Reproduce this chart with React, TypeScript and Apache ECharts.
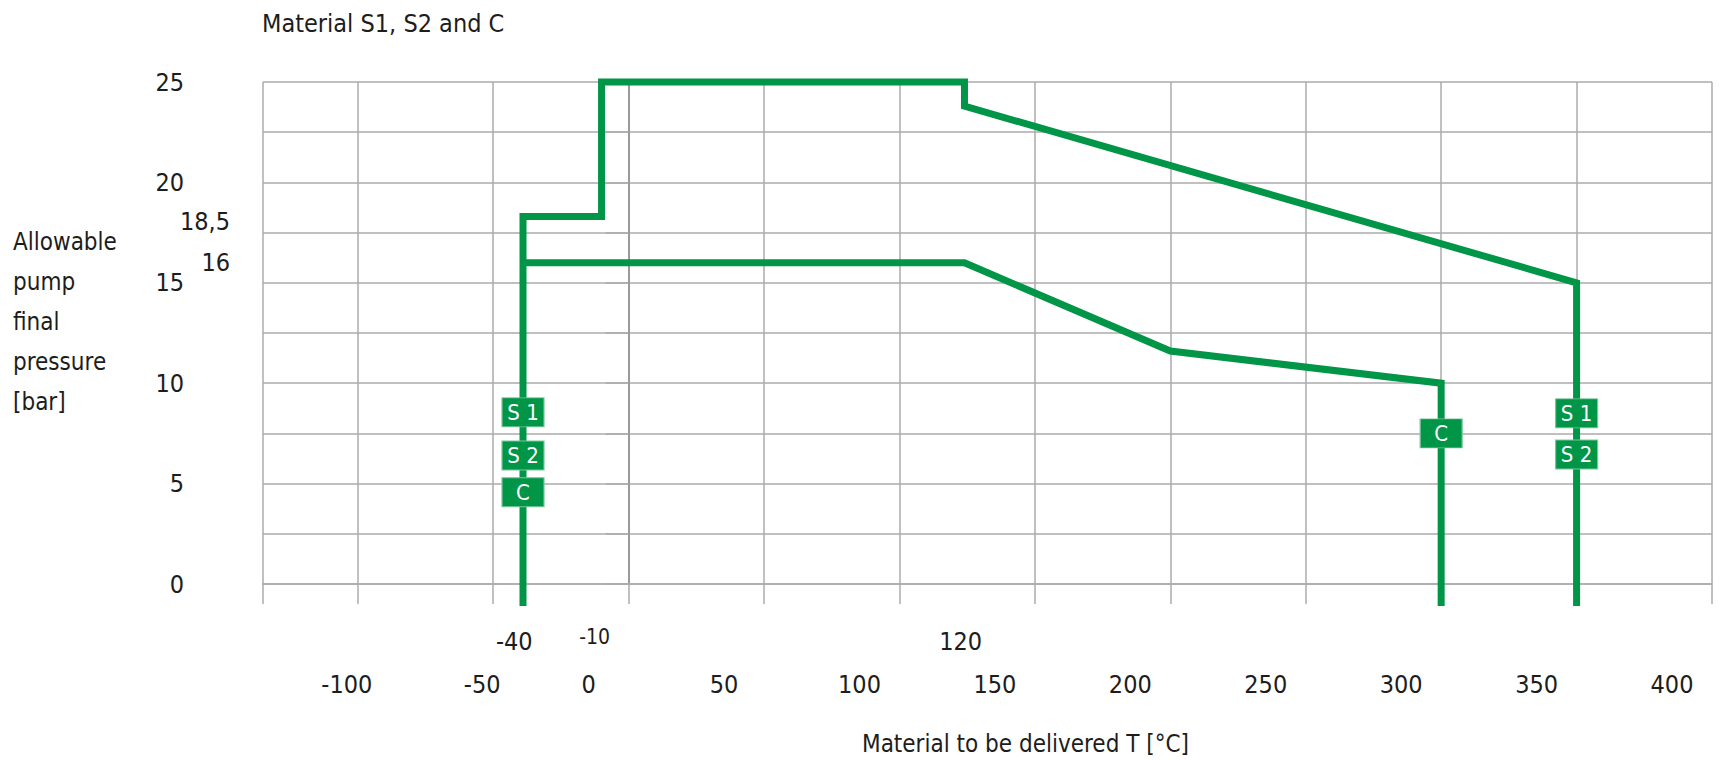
import React, { useEffect, useRef } from 'react';
import * as echarts from 'echarts';

// ---- data ----
const xTickValues = [-100, -50, 0, 50, 100, 150, 200, 250, 300, 350, 400];
const yLabelValues = [0, 5, 10, 15, 20, 25];

// outer limit curve (materials S1 and S2)
const outerX = [-39, -39, -10, -10, 124, 124, 350, 350];
const outerY = [-1.1, 18.3, 18.3, 25, 25, 23.8, 15, -1.1];

// inner limit curve (material C)
const innerX = [-39, 124, 200, 300, 300];
const innerY = [16, 16, 11.6, 10, -1.1];

// material tags on the curves
const tagText = ['S 1', 'S 2', 'C', 'C', 'S 1', 'S 2'];
const tagX = [-39, -39, -39, 300, 350, 350];
const tagY = [8.55, 6.4, 4.57, 7.5, 8.5, 6.45];

// special value annotations
const xNoteText = ['-40', '-10', '120'];
const xNoteValue = [-40, -10, 120];
const yNoteText = ['18,5', '16'];
const yNoteValue = [18.5, 16];

// ---- styles ----
const FONT = "'Liberation Sans Narrow', 'DejaVu Sans Condensed', Roboto, sans-serif";
const GREEN = '#009547';
const GRID_GRAY = '#ababab';
const AXIS_GRAY = '#9a9a9a';
const TEXT = '#1d1d1b';
const xLabelShift = [11, 11, 40, 40, 40, 40, 40, 40, 40, 40, 40];
const xNoteStyle = [
  { offset: [-6, 57], fontSize: 25 },
  { offset: [-7, 53], fontSize: 21 },
  { offset: [7, 57], fontSize: 25 },
];
const yNoteStyle = [{ offset: [0, 9] }, { offset: [0, 0] }];

const zip = (xs: number[], ys: number[]) => xs.map((x, i) => [x, ys[i]]);

const rich: Record<string, any> = {};
xTickValues.forEach((v, i) => {
  rich['r' + i] = {
    fontFamily: FONT,
    fontSize: 25,
    color: TEXT,
    padding: [0, xLabelShift[i] * 2, 0, 0],
  };
});

const option: any = {
  animation: false,
  backgroundColor: '#ffffff',
  textStyle: { fontFamily: FONT, color: TEXT },
  title: [
    {
      text: 'Material S1, S2 and C',
      left: 262,
      top: 11,
      padding: 0,
      textStyle: { fontFamily: FONT, fontSize: 25, fontWeight: 'normal', color: TEXT },
    },
    {
      text: 'Allowable\npump\nfinal\npressure\n[bar]',
      left: 13,
      top: 222,
      padding: 0,
      textStyle: { fontFamily: FONT, fontSize: 24, fontWeight: 'normal', color: TEXT, lineHeight: 40 },
    },
    {
      text: 'Material to be delivered T [°C]',
      left: 862,
      top: 732,
      padding: 0,
      textStyle: { fontFamily: FONT, fontSize: 24, fontWeight: 'normal', color: TEXT },
    },
  ],
  grid: { left: 263, right: 7, top: 82, bottom: 176, containLabel: false, outerBoundsMode: 'none' },
  xAxis: {
    type: 'value',
    min: -135,
    max: 400,
    splitNumber: 11,
    axisLine: { show: true, lineStyle: { color: GRID_GRAY, width: 1.5 } },
    axisTick: { show: true, length: 20, inside: false, lineStyle: { color: GRID_GRAY, width: 1.5 } },
    splitLine: { show: true, lineStyle: { color: GRID_GRAY, width: 1.5 } },
    axisLabel: {
      margin: 88,
      formatter: (v: number) => {
        const i = xTickValues.indexOf(v);
        return i < 0 ? '' : `{r${i}|${v}}`;
      },
      rich,
    },
  },
  yAxis: {
    type: 'value',
    min: 0,
    max: 25,
    interval: 2.5,
    axisLine: { show: true, lineStyle: { color: AXIS_GRAY, width: 2 } },
    axisTick: { show: true, length: 23, inside: false, lineStyle: { color: GRID_GRAY, width: 1.5 } },
    splitLine: { show: true, lineStyle: { color: GRID_GRAY, width: 1.5 } },
    axisLabel: {
      margin: 79,
      fontFamily: FONT,
      fontSize: 25,
      color: TEXT,
      formatter: (v: number) => (yLabelValues.indexOf(v) >= 0 ? String(v) : ''),
    },
  },
  series: [
    {
      name: 'S1 / S2',
      type: 'line',
      data: zip(outerX, outerY),
      symbol: 'none',
      clip: false,
      lineStyle: { color: GREEN, width: 7, join: 'miter', cap: 'butt' },
      z: 3,
    },
    {
      name: 'C',
      type: 'line',
      data: zip(innerX, innerY),
      symbol: 'none',
      clip: false,
      lineStyle: { color: GREEN, width: 7, join: 'miter', cap: 'butt' },
      z: 3,
    },
    {
      name: 'tags',
      type: 'scatter',
      clip: false,
      symbol: 'rect',
      symbolSize: [42, 29],
      itemStyle: { color: GREEN, borderColor: '#7cc59c', borderWidth: 1, opacity: 1 },
      label: {
        show: true,
        position: 'inside',
        color: '#ffffff',
        fontFamily: FONT,
        fontSize: 22,
        formatter: (p: any) => p.name,
      },
      data: tagText.map((t, i) => ({ name: t, value: [tagX[i], tagY[i]] })),
      z: 5,
    },
    {
      name: 'xNotes',
      type: 'scatter',
      clip: false,
      symbolSize: 0,
      silent: true,
      itemStyle: { opacity: 1 },
      label: {
        show: true,
        position: 'inside',
        color: TEXT,
        fontFamily: FONT,
        formatter: (p: any) => p.name,
      },
      data: xNoteText.map((t, i) => ({
        name: t,
        value: [xNoteValue[i], 0],
        label: { offset: xNoteStyle[i].offset, fontSize: xNoteStyle[i].fontSize },
      })),
      z: 4,
    },
    {
      name: 'yNotes',
      type: 'scatter',
      clip: false,
      symbolSize: 0,
      silent: true,
      itemStyle: { opacity: 1 },
      label: {
        show: true,
        position: 'left',
        distance: 33,
        color: TEXT,
        fontFamily: FONT,
        fontSize: 25,
        formatter: (p: any) => p.name,
      },
      data: yNoteText.map((t, i) => ({
        name: t,
        value: [-135, yNoteValue[i]],
        label: { offset: yNoteStyle[i].offset },
      })),
      z: 4,
    },
  ],
};

export default function App() {
  const ref = useRef<HTMLDivElement>(null);
  useEffect(() => {
    if (!ref.current) return;
    const chart = echarts.init(ref.current, null, { renderer: 'svg' });
    chart.setOption(option);
    return () => chart.dispose();
  }, []);
  return (
    <div
      ref={ref}
      style={{ position: 'absolute', left: 0, top: 0, width: 1719, height: 760, background: '#fff' }}
    />
  );
}
